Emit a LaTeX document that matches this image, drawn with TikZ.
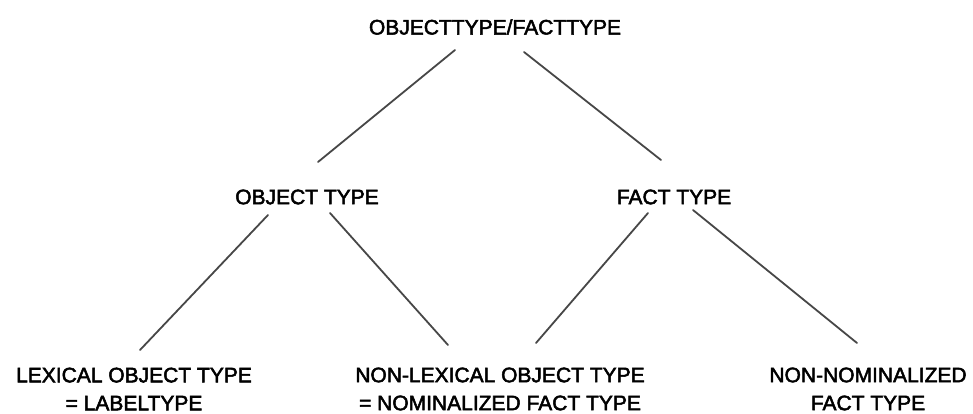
\documentclass[tikz,border=0pt]{standalone}
\usepackage{fontspec}
\setmainfont[FakeBold=2.4]{Liberation Sans}
\usetikzlibrary{calc}
\begin{document}
\begin{tikzpicture}[x=1pt,y=-1pt,
  lbl/.style={inner sep=0pt,align=center,font=\fontsize{21}{28}\selectfont},
  conn/.style={draw=black!72,line width=1.8pt,line cap=round}]
\useasboundingbox[fill=white] (0,0) rectangle (973,413);
\node[lbl] (top) at (495,27) {OBJECTTYPE/FACTTYPE};
\node[lbl] (ot) at (307,197) {OBJECT TYPE};
\node[lbl] (ft) at (674,197) {FACT TYPE};
\node[lbl] (lex) at (134,389) {LEXICAL OBJECT TYPE\\= LABELTYPE};
\node[lbl] (nlex) at (500,389) {NON-LEXICAL OBJECT TYPE\\= NOMINALIZED FACT TYPE};
\node[lbl] (nnom) at (868,389) {NON-NOMINALIZED\\FACT TYPE};
\draw[conn] ($(top)+(-40,23)$) -- ($(ot)+(11,-35)$);
\draw[conn] ($(top)+(29,25)$) -- ($(ft)+(-13,-37)$);
\draw[conn] ($(ot)+(-39,18)$) -- ($(lex)+(6,-39)$);
\draw[conn] ($(ot)+(23,16)$) -- ($(nlex)+(-52,-44)$);
\draw[conn] ($(ft)+(-26,16)$) -- ($(nlex)+(36,-46)$);
\draw[conn] ($(ft)+(19,13)$) -- ($(nnom)+(-11,-46)$);
\end{tikzpicture}
\end{document}
